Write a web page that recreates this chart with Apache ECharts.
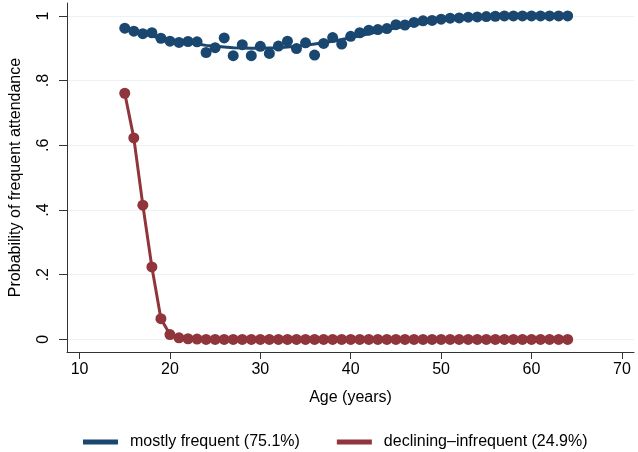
<!DOCTYPE html>
<html>
<head>
<meta charset="utf-8">
<script src="https://cdn.jsdelivr.net/npm/echarts@6/dist/echarts.min.js"></script>
<style>html,body{margin:0;padding:0;background:#fff}#c{width:638px;height:452px}</style>
</head>
<body>
<div id="c"></div>
<script>
const ages = [15,16,17,18,19,20,21,22,23,24,25,26,27,28,29,30,31,32,33,34,35,36,37,38,39,40,41,42,43,44,45,46,47,48,49,50,51,52,53,54,55,56,57,58,59,60,61,62,63,64];
const frequentObserved = [0.962,0.953,0.945,0.948,0.931,0.922,0.918,0.921,0.920,0.887,0.902,0.932,0.877,0.911,0.877,0.906,0.884,0.907,0.922,0.899,0.917,0.879,0.915,0.933,0.913,0.937,0.948,0.956,0.958,0.961,0.973,0.972,0.980,0.985,0.986,0.990,0.993,0.994,0.996,0.997,0.998,0.999,1.0,1.0,1.0,1.0,1.0,1.0,1.0,1.0];
const frequentFitted = [0.958,0.952,0.945,0.938,0.932,0.926,0.921,0.917,0.913,0.909,0.906,0.904,0.902,0.901,0.900,0.900,0.901,0.902,0.904,0.906,0.909,0.913,0.917,0.922,0.927,0.933,0.939,0.945,0.951,0.957,0.963,0.968,0.973,0.978,0.982,0.986,0.989,0.992,0.994,0.996,0.997,0.998,0.999,1.0,1.0,1.0,1.0,1.0,1.0,1.0];
const decliningValues = [0.761,0.623,0.415,0.224,0.064,0.015,0.005,0.002,0.001,0,0,0,0,0,0,0,0,0,0,0,0,0,0,0,0,0,0,0,0,0,0,0,0,0,0,0,0,0,0,0,0,0,0,0,0,0,0,0,0,0];
const xTicks = [10,20,30,40,50,60,70];
const yTicks = [0,0.2,0.4,0.6,0.8,1];
const seriesNames = ['mostly frequent (75.1%)','declining\u2013infrequent (24.9%)'];

const BLUE = '#1a476f', RED = '#90353b';
const FONT = 'Liberation Sans, Arial, sans-serif';
const pair = (xs, ys) => xs.map((x,i)=>[x, ys[i]]);

const chart = echarts.init(document.getElementById('c'), null, {renderer:'canvas'});
chart.setOption({
  animation:false,
  backgroundColor:'#fff',
  textStyle:{fontFamily:FONT, color:'#000'},
  grid:{left:59, right:4, top:3, bottom:100, containLabel:false},
  xAxis:{
    type:'value', min:8.61, max:71.34,
    name:'Age (years)', nameLocation:'middle', nameGap:38,
    nameTextStyle:{fontSize:16, color:'#000', fontFamily:FONT},
    axisLine:{show:true, onZero:false, lineStyle:{color:'#333', width:1}},
    axisTick:{show:true, length:7, inside:false, customValues:xTicks, lineStyle:{color:'#333'}},
    axisLabel:{customValues:xTicks, fontSize:16, color:'#000', margin:10, fontFamily:FONT},
    splitLine:{show:false}
  },
  yAxis:{
    type:'value', min:-0.039, max:1.04,
    name:'Probability of frequent attendance', nameLocation:'middle', nameGap:43, nameRotate:90,
    nameTextStyle:{fontSize:16, color:'#000', fontFamily:FONT},
    axisLine:{show:true, onZero:false, lineStyle:{color:'#333', width:1}},
    axisTick:{show:true, length:8, customValues:yTicks, lineStyle:{color:'#333'}},
    axisLabel:{customValues:yTicks, fontSize:16, color:'#000', margin:15, rotate:90, fontFamily:FONT,
      formatter:v=>{ if (Math.abs(v)<1e-9) return '0'; if (Math.abs(v-1)<1e-9) return '1'; return '.'+Math.round(v*10); }},
    splitLine:{show:true, lineStyle:{color:'#eaf2f3', width:1}}
  },
  legend:{
    left:78, top:429, itemWidth:35, itemHeight:5, itemGap:37,
    icon:'rect',
    textStyle:{fontSize:16, color:'#000', fontFamily:FONT, padding:[0,0,0,7]},
    data:[{name:seriesNames[0], itemStyle:{color:BLUE}}, {name:seriesNames[1], itemStyle:{color:RED}}]
  },
  series:[
    {name:seriesNames[0], type:'line', data:pair(ages, frequentFitted), showSymbol:false, symbol:'none',
     lineStyle:{color:BLUE, width:3}, itemStyle:{color:BLUE}, z:2},
    {name:'mostly frequent observed', type:'scatter', data:pair(ages, frequentObserved), symbol:'circle', symbolSize:11,
     itemStyle:{color:BLUE, opacity:1}, z:3},
    {name:seriesNames[1], type:'line', data:pair(ages, decliningValues), symbol:'circle', symbolSize:11, showSymbol:true,
     lineStyle:{color:RED, width:3}, itemStyle:{color:RED, borderWidth:0}, z:3}
  ]
});
</script>
</body>
</html>
